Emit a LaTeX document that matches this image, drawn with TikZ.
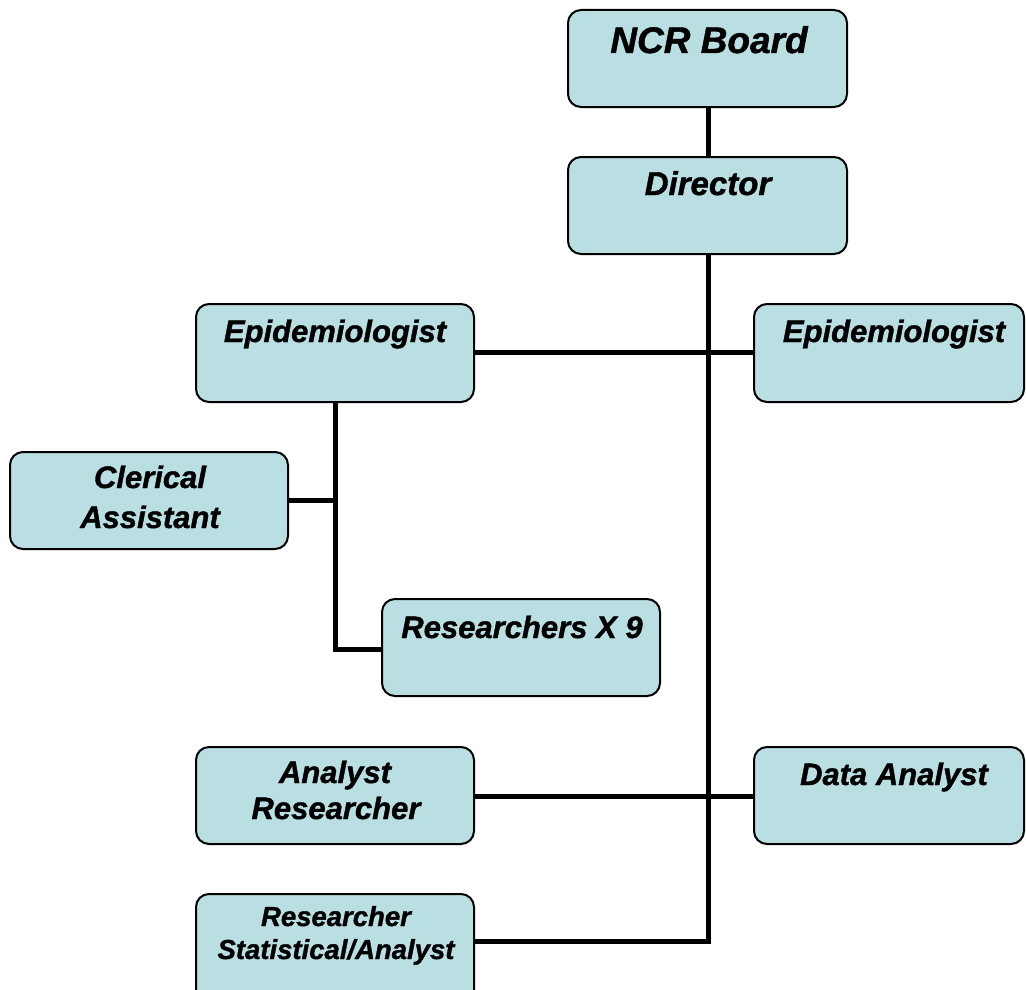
\documentclass[tikz,border=0pt]{standalone}
\usepackage{fontspec}
\setmainfont{Liberation Sans}[BoldItalicFeatures={FakeBold=1.2}]
\definecolor{boxfill}{RGB}{186,223,227}
\tikzset{
  orgbox/.style={draw=black, line width=2pt, fill=boxfill, rounded corners=13pt},
  lbl/.style={anchor=base, inner sep=0pt, font=\bfseries\itshape\fontsize{31}{31}\selectfont},
  biglbl/.style={lbl, font=\bfseries\itshape\fontsize{37}{37}\selectfont},
  midlbl/.style={lbl, font=\bfseries\itshape\fontsize{33}{33}\selectfont},
  smalllbl/.style={lbl, font=\bfseries\itshape\fontsize{27.5}{27.5}\selectfont},
  conn/.style={draw=black, line width=5pt}
}
\begin{document}
\begin{tikzpicture}[x=1pt,y=-1pt]
\useasboundingbox (0,0) rectangle (1026,990);
\clip (0,0) rectangle (1026,990);
% boxes
\draw[orgbox] (568,10) rectangle (847,107);
\draw[orgbox] (568,157) rectangle (847,254);
\draw[orgbox] (196,304) rectangle (474,402);
\draw[orgbox] (754,304) rectangle (1024,402);
\draw[orgbox] (10,452) rectangle (288,549);
\draw[orgbox] (382,599) rectangle (660,696);
\draw[orgbox] (196,747) rectangle (474,844);
\draw[orgbox] (754,747) rectangle (1024,844);
\draw[orgbox] (196,894) rectangle (474,1010);
% anchor coordinates for boxes
\coordinate (ncrS) at (708,107);
\coordinate (dirN) at (708,157);
\coordinate (dirS) at (708,254);
\coordinate (epiLE) at (474,352);
\coordinate (epiRW) at (754,352);
\coordinate (epiLS) at (335,402);
\coordinate (clerE) at (288,500);
\coordinate (clerJ) at (335,500);
\coordinate (resW) at (382,649);
\coordinate (resJ) at (335,649);
\coordinate (anaE) at (474,796);
\coordinate (dataW) at (754,796);
\coordinate (statE) at (474,941);
\coordinate (dirBot) at (708,941);
% connectors
\draw[conn] (ncrS) -- (dirN);
\draw[conn] (dirS) -- (dirBot) -- (statE);
\draw[conn] (epiLE) -- (epiRW);
\draw[conn] (anaE) -- (dataW);
\draw[conn] (epiLS) -- (resJ) -- (resW);
\draw[conn] (clerE) -- (clerJ);
% labels
\node[biglbl] (tNCR) at (709,53) {NCR Board};
\node[midlbl] (tDir) at (708,195) {Director};
\node[lbl] (tEpiL) at (335,342) {Epidemiologist};
\node[lbl] (tEpiR) at (894,342) {Epidemiologist};
\node[lbl] (tCler1) at (150,488) {Clerical};
\node[lbl] (tCler2) at (150,528) {Assistant};
\node[lbl] (tRes) at (522,638) {Researchers X 9};
\node[lbl] (tAna1) at (335,783) {Analyst};
\node[lbl] (tAna2) at (336,819) {Researcher};
\node[lbl] (tData) at (894,785) {Data Analyst};
\node[smalllbl] (tStat1) at (336,926) {Researcher};
\node[smalllbl] (tStat2) at (336,959) {Statistical/Analyst};
\end{tikzpicture}
\end{document}
